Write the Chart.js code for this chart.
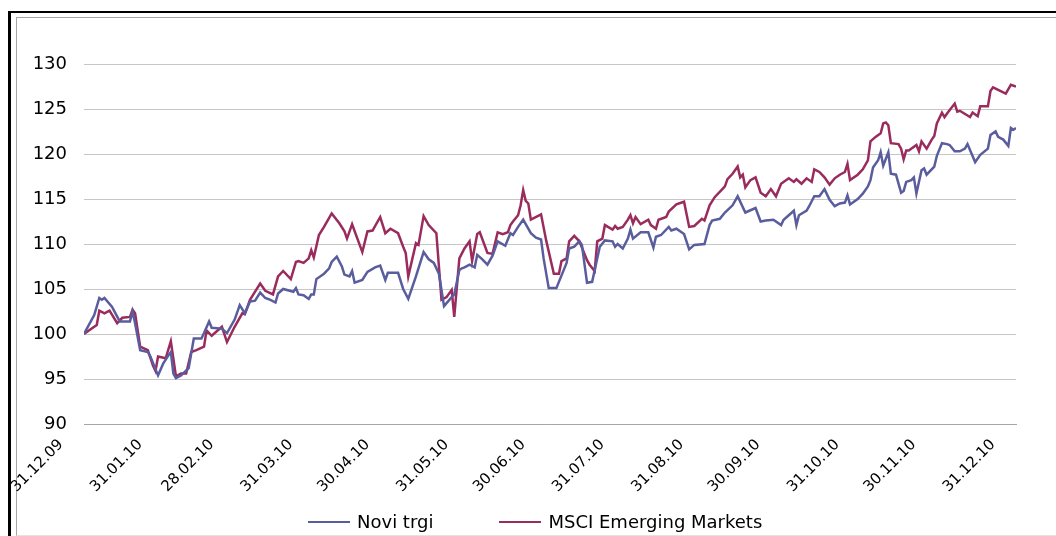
<!DOCTYPE html>
<html>
<head>
<meta charset="utf-8">
<script src="https://cdn.jsdelivr.net/npm/chart.js@4.4.1/dist/chart.umd.min.js"></script>
<style>
  html, body { margin: 0; padding: 0; background: #fff; overflow: hidden; }
  #outer { position: absolute; left: 8px; top: 11px; width: 1200px; height: 700px;
           border-top: 2px solid #000; border-left: 3px solid #000; }
  #inner { position: absolute; left: 16px; top: 17px; width: 1200px; height: 519px; box-sizing: border-box;
           border-top: 1px solid #a6a6a6; border-left: 1px solid #a6a6a6; border-bottom: 1px solid #e2e2e2; }
  #chart { position: absolute; left: 0; top: 0; z-index: 1; }
  #legend { position: absolute; left: 308px; top: 511px; z-index: 2; display: flex; gap: 66px;
            font-family: 'DejaVu Sans', Verdana, sans-serif; font-size: 18px; line-height: 22px; color: #000; }
  #legend .item { display: flex; align-items: center; white-space: nowrap; }
  #legend .swatch { display: inline-block; width: 42px; height: 2px; margin-right: 7px; }
</style>
</head>
<body>
<div id="outer"></div>
<div id="inner"></div>
<canvas id="chart" width="1056" height="536"></canvas>
<div id="legend"></div>
<script>
// ---------- DATA (days since 31.12.09, index value) ----------
const tickDays   = [0, 31, 59, 90, 120, 151, 181, 212, 243, 273, 304, 334, 365];
const tickLabels = ["31.12.09", "31.01.10", "28.02.10", "31.03.10", "30.04.10", "31.05.10", "30.06.10",
                    "31.07.10", "31.08.10", "30.09.10", "31.10.10", "30.11.10", "31.12.10"];

const noviDays = [
  0, 4, 6, 7, 8, 11, 14, 15, 18, 19,
  20, 22, 25, 26, 28, 29, 31, 33, 34, 35,
  36, 38, 41, 43, 46, 47, 49, 50, 54, 56,
  59, 61, 63, 65, 67, 69, 71, 73, 75, 76,
  78, 82, 83, 84, 86, 88, 89, 90, 91, 94,
  96, 97, 99, 101, 102, 104, 105, 106, 109, 111,
  114, 116, 118, 119, 123, 125, 127, 130, 133, 135,
  137, 139, 141, 144, 145, 147, 148, 149, 151, 153,
  154, 156, 158, 160, 162, 165, 167, 168, 170, 172,
  175, 177, 179, 180, 182, 185, 189, 190, 192, 194,
  195, 197, 199, 202, 204, 207, 208, 209, 211, 213,
  214, 215, 218, 221, 223, 224, 226, 229, 230, 232,
  235, 237, 239, 243, 245, 246, 249, 251, 254, 256,
  259, 263, 265, 267, 270, 273, 274, 278, 279, 280,
  283, 284, 286, 288, 290, 292, 294, 296, 298, 299,
  300, 303, 305, 307, 308, 309, 311, 312, 313, 315,
  316, 318, 320, 321, 322, 324, 325, 326, 328, 329,
  330, 333, 334, 336, 338, 339, 341, 343, 345, 346,
  349, 351, 354, 355, 357, 358, 360, 362, 363, 364,
  365
];
const noviValues = [
  100.0, 102.1, 104.0, 103.8, 104.0, 103.0, 101.4, 101.4, 101.4, 102.5,
  101.2, 98.2, 98.0, 97.5, 96.1, 95.4, 96.7, 97.6, 98.0, 95.6,
  95.1, 95.4, 96.2, 99.5, 99.5, 100.1, 101.4, 100.7, 100.6, 100.1,
  101.6, 103.2, 102.3, 103.6, 103.7, 104.6, 104.0, 103.8, 103.5, 104.5,
  105.0, 104.7, 105.1, 104.4, 104.3, 103.9, 104.4, 104.4, 106.1, 106.7,
  107.3, 108.0, 108.6, 107.5, 106.6, 106.4, 107.0, 105.7, 106.0, 106.9,
  107.4, 107.6, 106.0, 106.8, 106.8, 105.0, 103.9, 106.4, 109.1, 108.3,
  107.9, 106.7, 103.1, 104.1, 104.4, 107.1, 107.3, 107.4, 107.7, 107.4,
  108.8, 108.3, 107.7, 108.7, 110.3, 109.8, 111.2, 111.0, 111.9, 112.7,
  111.2, 110.7, 110.5, 108.4, 105.1, 105.1, 107.9, 109.5, 109.7, 110.3,
  109.9, 105.7, 105.8, 109.7, 110.4, 110.3, 109.7, 110.0, 109.5, 110.6,
  111.6, 110.6, 111.3, 111.3, 109.6, 110.8, 111.0, 111.9, 111.5, 111.7,
  111.1, 109.4, 109.9, 110.0, 112.1, 112.6, 112.8, 113.5, 114.3, 115.3,
  113.5, 114.0, 112.5, 112.6, 112.7, 112.1, 112.7, 113.7, 112.1, 113.2,
  113.7, 114.2, 115.3, 115.3, 116.1, 114.9, 114.2, 114.5, 114.6, 115.4,
  114.4, 115.0, 115.6, 116.4, 117.1, 118.5, 119.3, 120.2, 118.7, 120.2,
  117.8, 117.7, 115.7, 115.9, 116.9, 117.1, 117.4, 115.6, 118.2, 118.4,
  117.7, 118.6, 119.8, 121.2, 121.1, 121.0, 120.3, 120.3, 120.6, 121.1,
  119.1, 119.9, 120.6, 122.1, 122.5, 121.9, 121.6, 120.9, 122.9, 122.7,
  122.9
];

const msciDays = [
  0, 3, 5, 6, 8, 10, 13, 15, 18, 19,
  20, 22, 25, 27, 28, 29, 32, 34, 36, 38,
  40, 42, 44, 47, 48, 50, 54, 56, 59, 62,
  63, 65, 67, 69, 71, 74, 76, 78, 81, 83,
  84, 86, 88, 89, 90, 92, 94, 97, 100, 102,
  103, 105, 109, 111, 113, 116, 118, 120, 123, 125,
  126, 127, 130, 131, 133, 135, 138, 140, 142, 144,
  145, 147, 149, 151, 152, 154, 155, 158, 160, 162,
  164, 166, 167, 168, 170, 171, 172, 173, 174, 175,
  179, 181, 184, 186, 187, 189, 190, 192, 194, 197,
  198, 200, 201, 203, 204, 207, 208, 209, 211, 213,
  214, 215, 216, 218, 221, 222, 224, 225, 228, 229,
  232, 235, 237, 239, 242, 243, 245, 247, 250, 251,
  252, 254, 256, 257, 258, 259, 261, 263, 265, 267,
  269, 271, 273, 276, 278, 279, 281, 283, 285, 286,
  288, 290, 292, 294, 296, 298, 299, 300, 303, 305,
  307, 308, 310, 312, 313, 314, 315, 316, 319, 320,
  321, 322, 323, 326, 327, 328, 330, 332, 333, 334,
  336, 337, 338, 341, 342, 343, 347, 348, 350, 351,
  354, 355, 356, 361, 363, 365
];
const msciValues = [
  100.0, 100.6, 101.0, 102.6, 102.3, 102.6, 101.2, 101.8, 101.9, 102.7,
  102.3, 98.6, 98.2, 96.5, 95.9, 97.5, 97.3, 99.2, 95.3, 95.6,
  95.6, 98.0, 98.2, 98.6, 100.4, 99.8, 100.8, 99.1, 100.8, 102.3,
  102.2, 103.8, 104.7, 105.6, 104.8, 104.4, 106.4, 107.0, 106.1, 108.0,
  108.1, 107.9, 108.4, 109.3, 108.5, 111.0, 111.9, 113.4, 112.3, 111.4,
  110.6, 112.2, 109.1, 111.4, 111.5, 113.0, 111.2, 111.7, 111.2, 109.7,
  109.0, 106.4, 110.1, 109.9, 113.1, 112.1, 111.2, 103.8, 104.1, 104.9,
  101.9, 108.4, 109.5, 110.3, 108.1, 111.1, 111.3, 109.0, 108.9, 111.3,
  111.1, 111.3, 112.1, 112.5, 113.2, 114.3, 116.0, 114.8, 114.5, 112.7,
  113.3, 110.4, 106.7, 106.7, 108.1, 108.4, 110.3, 110.9, 110.3, 108.2,
  107.7, 107.0, 110.3, 110.6, 112.1, 111.6, 112.0, 111.7, 111.9, 112.7,
  113.2, 112.3, 113.0, 112.2, 112.7, 112.1, 111.7, 112.7, 113.0, 113.6,
  114.4, 114.7, 111.9, 112.0, 112.8, 112.6, 114.3, 115.2, 116.1, 116.4,
  117.2, 117.8, 118.6, 117.4, 117.7, 116.3, 117.1, 117.4, 115.7, 115.3,
  116.1, 115.3, 116.7, 117.3, 116.9, 117.2, 116.7, 117.3, 116.9, 118.3,
  118.0, 117.4, 116.6, 117.3, 117.7, 118.0, 118.9, 117.1, 117.7, 118.3,
  119.3, 121.4, 121.9, 122.3, 123.4, 123.5, 123.2, 121.2, 121.1, 120.6,
  119.4, 120.4, 120.4, 121.0, 120.3, 121.4, 120.6, 121.6, 122.0, 123.4,
  124.6, 124.1, 124.5, 125.6, 124.7, 124.8, 124.1, 124.6, 124.2, 125.3,
  125.3, 127.0, 127.4, 126.7, 127.7, 127.5
];

const BLUE = "#5a5d9d";
const RED  = "#992c5c";
const FONT = "'DejaVu Sans', Verdana, sans-serif";

function toPoints(days, values) {
  return days.map((d, i) => ({ x: d, y: values[i] }));
}

// ---------- CHART ----------
const ctx = document.getElementById("chart").getContext("2d");

const chart = new Chart(ctx, {
  type: "line",
  data: {
    datasets: [
      {
        label: "Novi trgi",
        data: toPoints(noviDays, noviValues),
        borderColor: BLUE,
        backgroundColor: BLUE,
        borderWidth: 2.5,
        pointRadius: 0,
        tension: 0,
      },
      {
        label: "MSCI Emerging Markets",
        data: toPoints(msciDays, msciValues),
        borderColor: RED,
        backgroundColor: RED,
        borderWidth: 2.5,
        pointRadius: 0,
        tension: 0,
      },
    ],
  },
  options: {
    responsive: false,
    animation: false,
    layout: { padding: { left: 0, right: 40, top: 64, bottom: 0 } },
    scales: {
      x: {
        type: "linear",
        min: 0,
        max: 365,
        grid: { display: false, drawTicks: false },
        border: { color: "#a6a6a6" },
        afterBuildTicks: (s) => { s.ticks = tickDays.map((v) => ({ value: v })); },
        afterFit: (s) => { s.height = 112; },
        ticks: {
          autoSkip: false,
          minRotation: 45,
          maxRotation: 45,
          padding: 12,
          labelOffset: -23,
          color: "#000",
          font: { family: FONT, size: 15 },
          callback: (v) => {
            const i = tickDays.indexOf(v);
            return i >= 0 ? tickLabels[i] : "";
          },
        },
      },
      y: {
        min: 90,
        max: 130,
        grid: { color: "#c6c6c6", drawTicks: false },
        border: { display: false },
        afterFit: (s) => { s.width = 84; },
        ticks: {
          stepSize: 5,
          padding: 17,
          color: "#000",
          font: { family: FONT, size: 18 },
        },
      },
    },
    plugins: {
      tooltip: { enabled: false },
      legend: { display: false },
    },
  },
});

// ---------- LEGEND (html, from the datasets) ----------
const legendEl = document.getElementById("legend");
chart.data.datasets.forEach((ds) => {
  const item = document.createElement("span");
  item.className = "item";
  item.innerHTML = `<span class="swatch" style="background:${ds.borderColor}"></span>${ds.label}`;
  legendEl.appendChild(item);
});
</script>
</body>
</html>
